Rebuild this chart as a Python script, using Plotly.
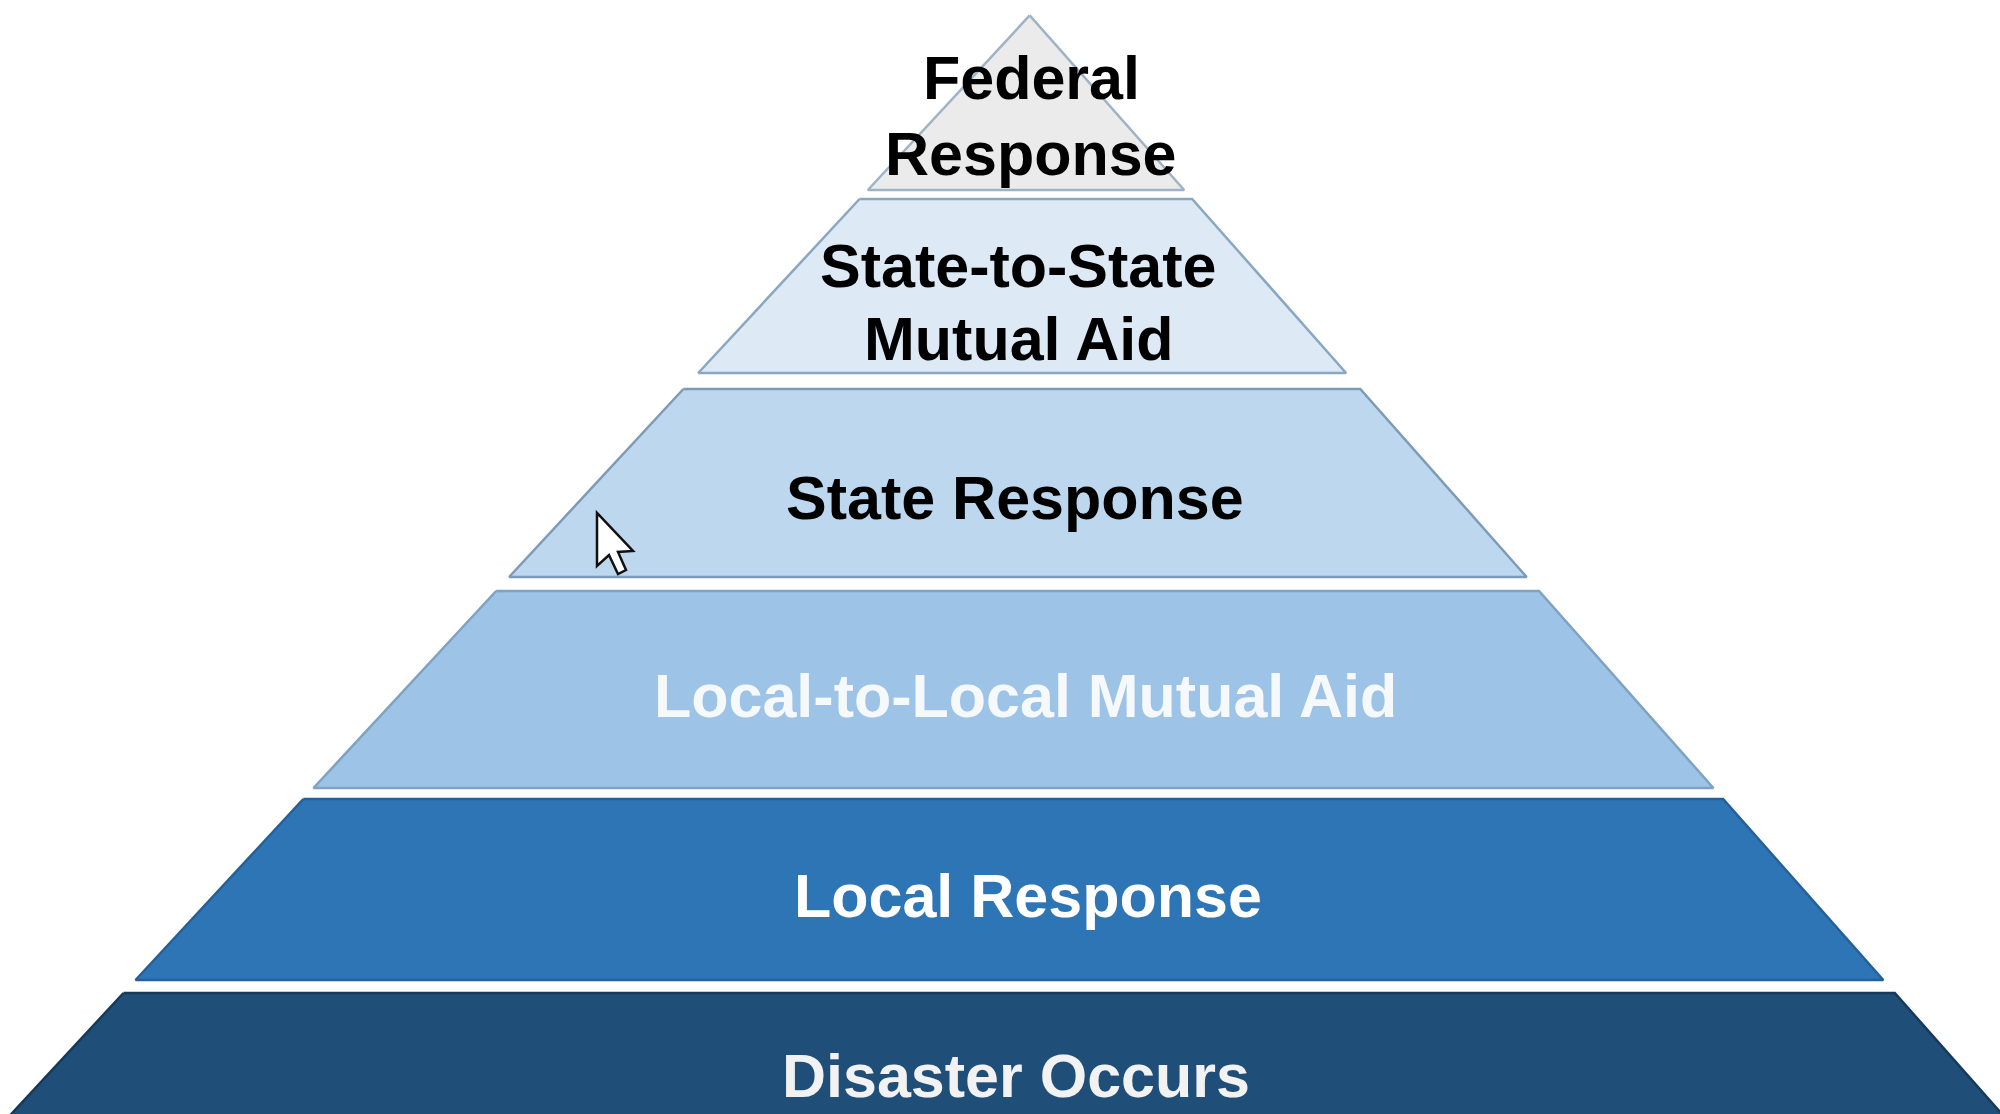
import plotly.graph_objects as go

# ---- data: pyramid levels (top to bottom) ----
levels = ["Federal\nResponse", "State-to-State\nMutual Aid", "State Response",
          "Local-to-Local Mutual Aid", "Local Response", "Disaster Occurs"]
fill_colors = ["#ebebeb", "#dde9f5", "#bdd7ee", "#9dc3e6", "#2e75b6", "#1f4e79"]
line_colors = ["#9fb3c7", "#8aa7c2", "#7d9bb8", "#7ea2c4", "#24609a", "#163a5c"]
text_colors = ["#000000", "#000000", "#000000", "#f6f9fc", "#ffffff", "#f2f2f2"]

# ---- geometry (pixel space of the 2000x1114 canvas) ----
W, H = 2000, 1114
layer_top = [None, 199, 389, 591, 799, 993]
layer_bottom = [190, 373, 577, 788, 980, 1140]
text_x = [1031, 1018, 1015, 1025, 1028, 1016]
text_y = [[78, 154], [266, 339], [498], [696], [896], [1076]]


def x_left(y):
    return 1044 - 0.927 * y


def x_right(y):
    return 1016 + 0.885 * y


apex_y = (1044 - 1016) / (0.927 + 0.885)

fig = go.Figure()
for i, name in enumerate(levels):
    yb = layer_bottom[i]
    if layer_top[i] is None:
        ax = x_left(apex_y)
        xs = [ax, x_right(yb), x_left(yb), ax]
        ys = [apex_y, yb, yb, apex_y]
    else:
        yt = layer_top[i]
        xs = [x_left(yt), x_right(yt), x_right(yb), x_left(yb), x_left(yt)]
        ys = [yt, yt, yb, yb, yt]
    fig.add_trace(go.Scatter(
        x=xs, y=ys, mode="lines", fill="toself",
        fillcolor=fill_colors[i],
        line=dict(color=line_colors[i], width=2.5),
        hoverinfo="skip", showlegend=False,
    ))
    for line_text, ty in zip(name.split("\n"), text_y[i]):
        fig.add_annotation(
            x=text_x[i], y=ty, text=f"<b>{line_text}</b>", showarrow=False,
            xanchor="center", yanchor="middle",
            font=dict(family="Liberation Sans, Arial, sans-serif", size=61,
                      color=text_colors[i]),
        )

# mouse cursor seen in the screenshot
fig.add_shape(
    type="path",
    path="M597,513 L597,566 L609,555 L618,574 L626,570 L618,552 L633,551 Z",
    xref="x", yref="y", fillcolor="#ffffff",
    line=dict(color="#111111", width=2.5),
)

fig.update_layout(
    width=W, height=H,
    margin=dict(l=0, r=0, t=0, b=0),
    paper_bgcolor="#ffffff", plot_bgcolor="#ffffff",
    xaxis=dict(range=[0, W], visible=False, fixedrange=True),
    yaxis=dict(range=[H, 0], visible=False, fixedrange=True),
)

fig.write_html(
    "out.html",
    config={"displayModeBar": False},
    post_script="document.body.style.margin='0';document.body.style.overflow='hidden';",
)
